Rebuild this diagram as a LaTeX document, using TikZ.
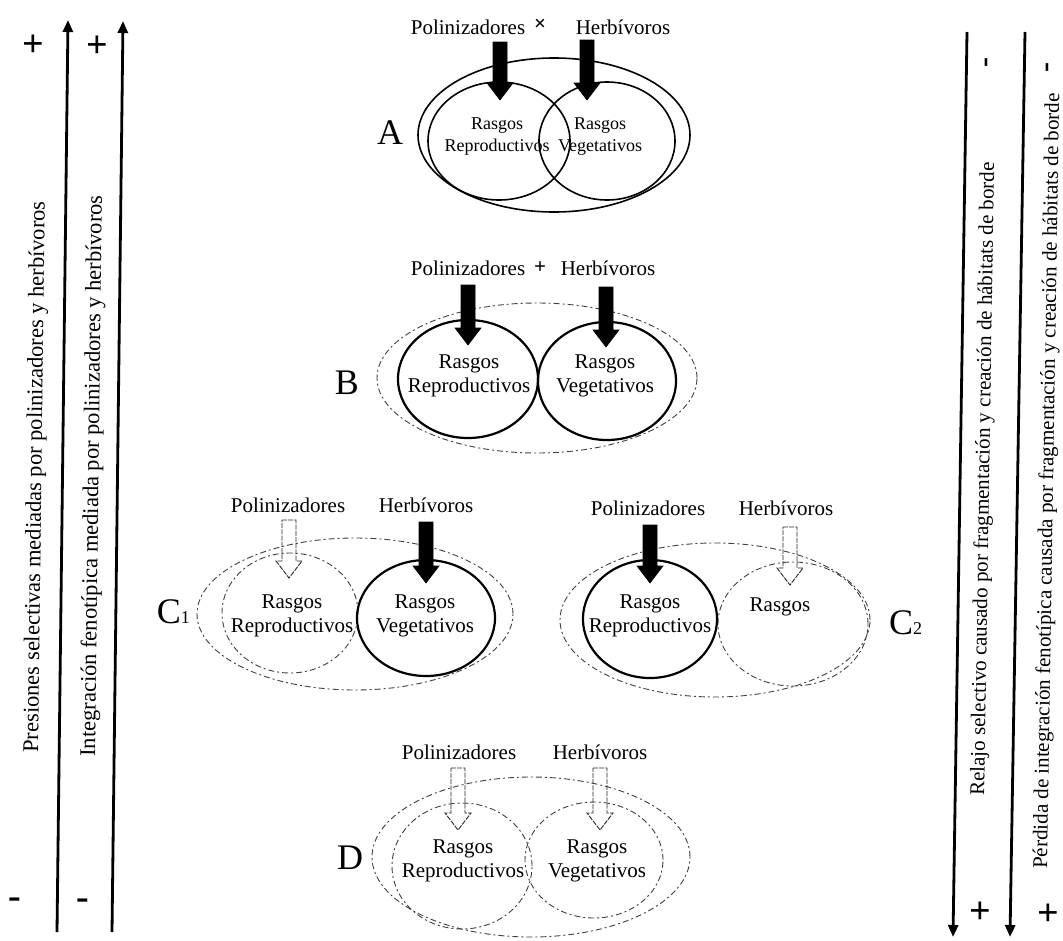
\documentclass[tikz,border=0pt]{standalone}
\usepackage{fontspec}
\setmainfont{Liberation Serif}
\usetikzlibrary{arrows.meta}
% block arrow: #1 style, #2 x of axis, #3 top y, #4 tip y
\newcommand{\blkarrow}[4]{\draw[#1] (#2-7,#3) -- (#2+7,#3) -- (#2+7,#4-17) -- (#2+13,#4-17) -- (#2,#4) -- (#2-13,#4-17) -- (#2-7,#4-17) -- cycle;}
\begin{document}
\begin{tikzpicture}[x=1pt,y=-1pt,
  darkarrow/.style={fill=black, draw=black, line width=0.6pt},
  hollowarrow/.style={draw=black!85, line width=0.9pt, dash pattern=on 5pt off 1.2pt},
  solidc/.style={draw=black, line width=2.2pt},
  solidA/.style={draw=black, line width=1.6pt},
  dashc/.style={draw=black!75, line width=0.9pt, dash pattern=on 6pt off 3pt on 2pt off 3pt},
  lbl/.style={font=\fontsize{21}{24}\selectfont, inner sep=0pt},
  trait/.style={font=\fontsize{21}{24}\selectfont, align=center, inner sep=0pt},
  traitA/.style={font=\fontsize{18}{22}\selectfont, align=center, inner sep=0pt},
  big/.style={font=\fontsize{36}{36}\selectfont, inner sep=0pt},
  sign/.style={font=\fontsize{38}{38}\selectfont\bfseries, inner sep=0pt},
  side/.style={font=\fontsize{21}{24}\selectfont, inner sep=0pt},
  sideL/.style={font=\fontsize{22.5}{24}\selectfont, inner sep=0pt},
  axisline/.style={line width=2.8pt, -{Triangle[length=12pt,width=10pt]}}]
\useasboundingbox (0,0) rectangle (1063,940);
\fill[white] (0,0) rectangle (1063,940);

% ---------- axes ----------
\coordinate (L1b) at (57,932); \coordinate (L1t) at (68,20);
\coordinate (L2b) at (112,932); \coordinate (L2t) at (123,21);
\coordinate (R1t) at (967,32); \coordinate (R1b) at (953,937);
\coordinate (R2t) at (1025,32); \coordinate (R2b) at (1010,937);
\draw[axisline] (L1b) -- (L1t);
\draw[axisline] (L2b) -- (L2t);
\draw[axisline] (R1t) -- (R1b);
\draw[axisline] (R2t) -- (R2b);

\node[sideL, rotate=89.3] (t1) at (36,477) {Presiones selectivas mediadas por polinizadores y herbívoros};
\node[sideL, rotate=89.3] (t2) at (93,476) {Integración fenotípica mediada por polinizadores y herbívoros};
\node[side, rotate=89.1] (t3) at (984,479) {Relajo selectivo causado por fragmentación y creación de hábitats de borde};
\node[side, rotate=89.1] (t4) at (1048,481) {Pérdida de integración fenotípica causada por fragmentación y creación de hábitats de borde};

\node[sign] (sp1) at (33,46) {+};
\node[sign] (sp2) at (97,47) {+};
\node[sign] (sm1) at (15,903) {-};
\node[sign] (sm2) at (83,904) {-};
\node[sign, font=\fontsize{30}{30}\selectfont\bfseries, rotate=90] (sm3) at (989,63) {-};
\node[sign, font=\fontsize{30}{30}\selectfont\bfseries, rotate=90] (sm4) at (1050,68) {-};
\node[sign] (sp3) at (980,913) {+};
\node[sign] (sp4) at (1048,915) {+};

% ---------- A ----------
\draw[solidA] (554,135) ellipse [x radius=136pt, y radius=77pt];
\draw[solidA] (499,141) ellipse [x radius=71pt, y radius=59pt];
\draw[solidA] (607,141) ellipse [x radius=68pt, y radius=59pt];
\node[lbl] (polA) at (468,27) {Polinizadores};
\node[lbl, font=\fontsize{21}{24}\selectfont\bfseries] (xA) at (540,25) {×};
\node[lbl] (herA) at (623,27) {Herbívoros};
\blkarrow{darkarrow}{500}{42}{100}
\blkarrow{darkarrow}{587}{40}{100}
\node[big] (lA) at (390,133) {A};
\node[traitA] (rA) at (497,137) {Rasgos\\Reproductivos};
\node[traitA] (vA) at (600,137) {Rasgos\\Vegetativos};

% ---------- B ----------
\draw[dashc] (537,378) ellipse [x radius=160pt, y radius=75pt];
\draw[solidc] (468,379) ellipse [x radius=70pt, y radius=59pt];
\draw[solidc] (607,381) ellipse [x radius=69pt, y radius=59pt];
\node[lbl] (polB) at (468,268) {Polinizadores};
\node[lbl, font=\fontsize{21}{24}\selectfont\bfseries] (plB) at (540,268) {+};
\node[lbl] (herB) at (608,268) {Herbívoros};
\blkarrow{darkarrow}{468}{285}{345}
\blkarrow{darkarrow}{606}{287}{347}
\node[big] (lB) at (347,383) {B};
\node[trait] (rB) at (469,376) {Rasgos\\Reproductivos};
\node[trait] (vB) at (605,376) {Rasgos\\Vegetativos};

% ---------- C1 ----------
\draw[dashc] (355,614) ellipse [x radius=158pt, y radius=76pt];
\draw[dashc] (290,613) ellipse [x radius=68pt, y radius=60pt];
\draw[solidc] (426,618) ellipse [x radius=69pt, y radius=58pt];
\node[lbl] (polC1) at (288,505) {Polinizadores};
\node[lbl] (herC1) at (426,505) {Herbívoros};
\blkarrow{hollowarrow}{289}{520}{578}
\blkarrow{darkarrow}{426}{522}{583}
\node[big, anchor=east] (lC1) at (190,612) {C\raisebox{0pt}{\fontsize{18}{18}\selectfont 1}};
\node[trait] (rC1) at (292,616) {Rasgos\\Reproductivos};
\node[trait] (vC1) at (425,616) {Rasgos\\Vegetativos};

% ---------- C2 ----------
\draw[dashc] (715,620) ellipse [x radius=155pt, y radius=77pt];
\draw[solidc] (650,619) ellipse [x radius=67pt, y radius=59pt];
\draw[dashc] (793,624) ellipse [x radius=75pt, y radius=62pt];
\node[lbl] (polC2) at (648,508) {Polinizadores};
\node[lbl] (herC2) at (786,508) {Herbívoros};
\blkarrow{darkarrow}{650}{525}{583}
\blkarrow{hollowarrow}{790}{527}{585}
\node[big, anchor=west] (lC2) at (889,623) {C\raisebox{0pt}{\fontsize{18}{18}\selectfont 2}};
\node[trait] (rC2) at (650,616) {Rasgos\\Reproductivos};
\node[trait] (vC2) at (780,607) {Rasgos};

% ---------- D ----------
\draw[dashc] (531,857) ellipse [x radius=159pt, y radius=80pt];
\draw[dashc] (462,866) ellipse [x radius=70pt, y radius=63pt];
\draw[dashc] (594,860) ellipse [x radius=69pt, y radius=58pt];
\node[lbl] (polD) at (459,752) {Polinizadores};
\node[lbl] (herD) at (600,752) {Herbívoros};
\blkarrow{hollowarrow}{458}{768}{830}
\blkarrow{hollowarrow}{600}{768}{830}
\node[big] (lD) at (350,858) {D};
\node[trait] (rD) at (463,861) {Rasgos\\Reproductivos};
\node[trait] (vD) at (597,861) {Rasgos\\Vegetativos};
\end{tikzpicture}
\end{document}
